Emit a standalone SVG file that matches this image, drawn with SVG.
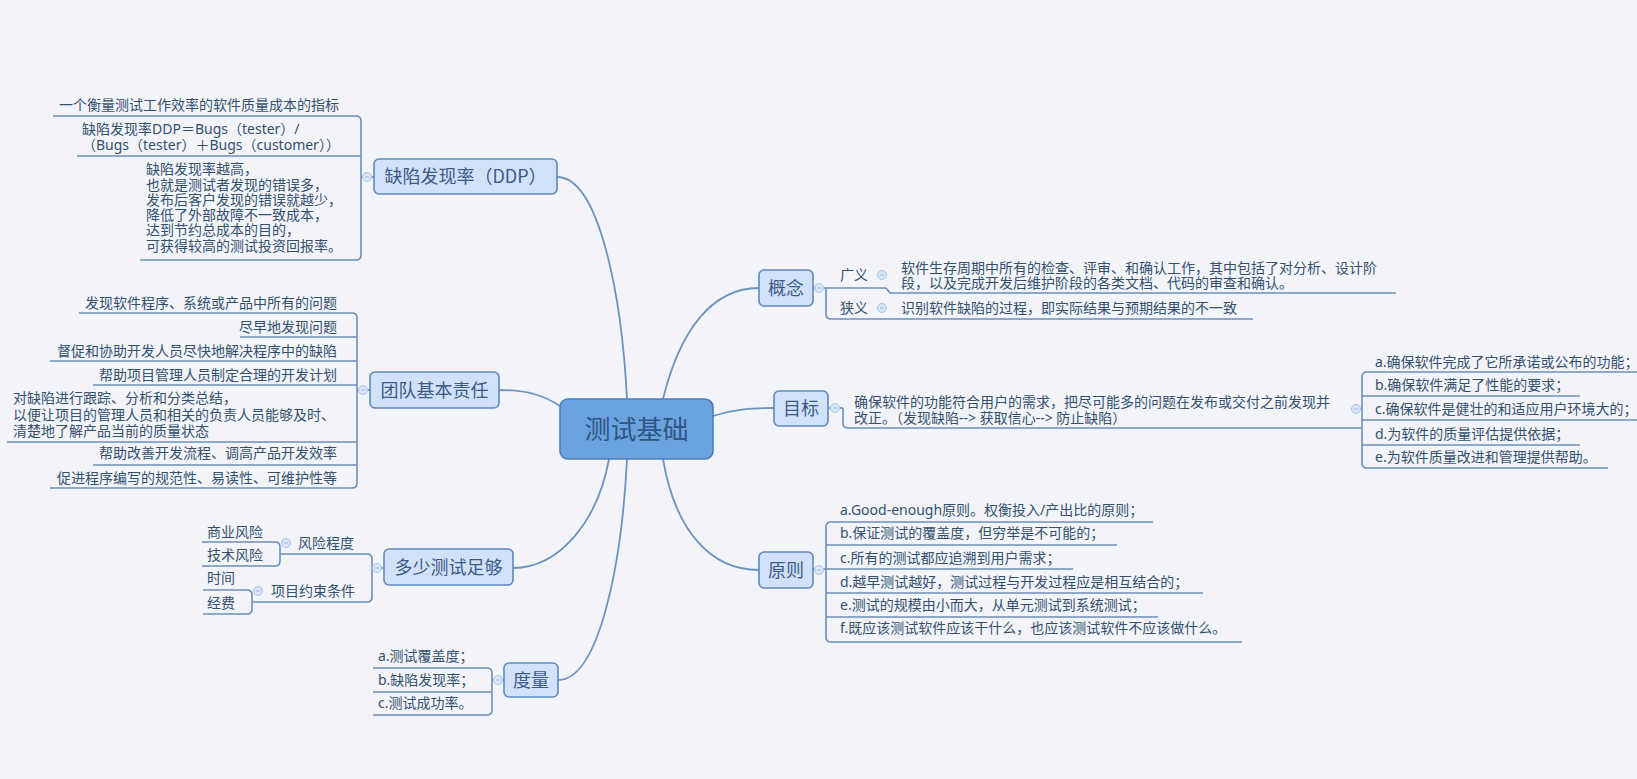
<svg xmlns="http://www.w3.org/2000/svg" width="1637" height="779" viewBox="0 0 1637 779">
<style>
text{font-family:"Noto Sans CJK SC","Noto Sans",sans-serif;fill:#34506f}
.t{font-family:"Noto Sans","Noto Sans CJK SC",sans-serif;font-size:14px}
.main rect{fill:#d2e1fa;stroke:#5f89bf;stroke-width:1.6}
.main text{font-size:18px;fill:#3b5b86;text-anchor:middle}
.root rect{fill:#6aa3df;stroke:#4c7fba;stroke-width:1.6}
.root text{font-size:26px;fill:#2f5684;text-anchor:middle}
.ul{stroke:#6c8fba;stroke-width:1.6;fill:none}
.conn path{stroke:#6f93bf;stroke-width:1.8;fill:none}
.br path{stroke:#6c8fba;stroke-width:1.6;fill:none}
.cb circle{fill:#d9e6f7;stroke:#aac4e6;stroke-width:1}
.cb line{stroke:#9db8de;stroke-width:1}
.end{text-anchor:end}
</style>
<rect width="1637" height="779" fill="#f2f4f9"/>

<g id="connectors">
  <g class="conn">
    <path d="M557,177 C600,177 622,300 627,399"/>
    <path d="M663,399 C680,330 712,288 759,288"/>
    <path d="M713,416 C735,409 752,408 774,408"/>
    <path d="M663,459 C675,530 710,570 759,570"/>
    <path d="M558,680 C600,680 622,560 627,459"/>
    <path d="M513,568 C560,568 598,520 609,459"/>
    <path d="M499,390 C528,390 545,396 560,406"/>
  </g>
  <g class="br">
    <path d="M374,177 H361"/>
    <path d="M356,116 Q361,116 361,121 V255 Q361,260 356,260"/>
    <path d="M370,390 H357"/>
    <path d="M352,313 Q357,313 357,318 V483 Q357,488 352,488"/>
    <path d="M384,568 H372"/>
    <path d="M367,554 Q372,554 372,559 V597 Q372,602 367,602"/>
    <path d="M275,542 Q280,542 280,547 V561 Q280,566 275,566"/>
    <path d="M247,590 Q252,590 252,595 V609 Q252,614 247,614"/>
    <path d="M504,680 H492"/>
    <path d="M487,668 Q492,668 492,673 V710 Q492,715 487,715"/>
    <path d="M813,288 H826"/>
    <path d="M826,288 V314 Q826,319 831,319"/>
    <path d="M886,288 L890,293"/>
    <path d="M828,408 H843"/>
    <path d="M843,408 V423 Q843,428 848,428"/>
    <path d="M1367,372 Q1362,372 1362,377 V463 Q1362,468 1367,468"/>
    <path d="M813,569 H826"/>
    <path d="M831,522 Q826,522 826,527 V637 Q826,642 831,642"/>
  </g>
</g>

<g id="root" class="root">
  <rect x="560" y="399" width="153" height="60" rx="8"/>
  <text x="636.5" y="439">测试基础</text>
</g>

<g id="n-ddp" class="main">
  <rect x="374" y="159" width="183" height="35" rx="5"/>
  <text x="465.5" y="183.3">缺陷发现率（DDP）</text>
</g>
<g id="n-team" class="main">
  <rect x="370" y="372" width="129" height="36" rx="5"/>
  <text x="434.5" y="396.8">团队基本责任</text>
</g>
<g id="n-enough" class="main">
  <rect x="384" y="549" width="129" height="36" rx="5"/>
  <text x="448.5" y="573.8">多少测试足够</text>
</g>
<g id="n-metric" class="main">
  <rect x="504" y="663" width="54" height="34" rx="5"/>
  <text x="531" y="686.8">度量</text>
</g>
<g id="n-concept" class="main">
  <rect x="759" y="270" width="54" height="36" rx="5"/>
  <text x="786" y="294.8">概念</text>
</g>
<g id="n-goal" class="main">
  <rect x="774" y="391" width="54" height="35" rx="5"/>
  <text x="801" y="415.3">目标</text>
</g>
<g id="n-principle" class="main">
  <rect x="759" y="552" width="54" height="36" rx="5"/>
  <text x="786" y="576.8">原则</text>
</g>

<g id="ddp-1">
  <text class="t" x="59" y="110.3">一个衡量测试工作效率的软件质量成本的指标</text>
  <path class="ul" d="M53,116 H356"/>
</g>
<g id="ddp-2">
  <text class="t" x="82" y="134.3">缺陷发现率DDP＝Bugs（tester）/</text>
  <text class="t" x="82" y="150.3">（Bugs（tester）＋Bugs（customer））</text>
  <path class="ul" d="M77,156 H361"/>
</g>
<g id="ddp-3">
  <text class="t" x="146" y="174.3">缺陷发现率越高，</text>
  <text class="t" x="146" y="190.3">也就是测试者发现的错误多，</text>
  <text class="t" x="146" y="205.3">发布后客户发现的错误就越少，</text>
  <text class="t" x="146" y="220.3">降低了外部故障不一致成本，</text>
  <text class="t" x="146" y="235.3">达到节约总成本的目的，</text>
  <text class="t" x="146" y="251.3">可获得较高的测试投资回报率。</text>
  <path class="ul" d="M140,260 H356"/>
</g>

<g id="team-1">
  <text class="t end" x="337" y="308.3">发现软件程序、系统或产品中所有的问题</text>
  <path class="ul" d="M79,313 H352"/>
</g>
<g id="team-2">
  <text class="t end" x="337" y="332.3">尽早地发现问题</text>
  <path class="ul" d="M240,337 H357"/>
</g>
<g id="team-3">
  <text class="t end" x="337" y="356.3">督促和协助开发人员尽快地解决程序中的缺陷</text>
  <path class="ul" d="M50,361 H357"/>
</g>
<g id="team-4">
  <text class="t end" x="337" y="380.3">帮助项目管理人员制定合理的开发计划</text>
  <path class="ul" d="M93,385 H357"/>
</g>
<g id="team-5">
  <text class="t" x="13" y="403.3">对缺陷进行跟踪、分析和分类总结，</text>
  <text class="t" x="13" y="420.3">以便让项目的管理人员和相关的负责人员能够及时、</text>
  <text class="t" x="13" y="436.3">清楚地了解产品当前的质量状态</text>
  <path class="ul" d="M7,442 H357"/>
</g>
<g id="team-6">
  <text class="t end" x="337" y="458.3">帮助改善开发流程、调高产品开发效率</text>
  <path class="ul" d="M93,465 H357"/>
</g>
<g id="team-7">
  <text class="t end" x="337" y="483.3">促进程序编写的规范性、易读性、可维护性等</text>
  <path class="ul" d="M50,488 H352"/>
</g>

<g id="enough-risk">
  <text class="t" x="298" y="548.3">风险程度</text>
  <path class="ul" d="M280,554 H367"/>
</g>
<g id="risk-biz">
  <text class="t" x="207" y="537.3">商业风险</text>
  <path class="ul" d="M202,542 H275"/>
</g>
<g id="risk-tech">
  <text class="t" x="207" y="560.3">技术风险</text>
  <path class="ul" d="M202,566 H275"/>
</g>
<g id="enough-limit">
  <text class="t" x="271" y="596.3">项目约束条件</text>
  <path class="ul" d="M252,602 H367"/>
</g>
<g id="limit-time">
  <text class="t" x="207" y="583.3">时间</text>
  <path class="ul" d="M203,590 H247"/>
</g>
<g id="limit-cost">
  <text class="t" x="207" y="608.3">经费</text>
  <path class="ul" d="M203,614 H247"/>
</g>

<g id="metric-a">
  <text class="t" x="378" y="661.3">a.测试覆盖度；</text>
  <path class="ul" d="M373,668 H487"/>
</g>
<g id="metric-b">
  <text class="t" x="378" y="685.3">b.缺陷发现率；</text>
  <path class="ul" d="M373,692 H492"/>
</g>
<g id="metric-c">
  <text class="t" x="378" y="708.3">c.测试成功率。</text>
  <path class="ul" d="M373,715 H487"/>
</g>

<g id="concept-broad">
  <text class="t" x="840" y="280.3">广义</text>
  <path class="ul" d="M826,288 H886"/>
</g>
<g id="broad-desc">
  <text class="t" x="901" y="273.3">软件生存周期中所有的检查、评审、和确认工作，其中包括了对分析、设计阶</text>
  <text class="t" x="901" y="288.3">段，以及完成开发后维护阶段的各类文档、代码的审查和确认。</text>
  <path class="ul" d="M890,293 H1396"/>
</g>
<g id="concept-narrow">
  <text class="t" x="840" y="313.3">狭义</text>
  <path class="ul" d="M831,319 H890"/>
</g>
<g id="narrow-desc">
  <text class="t" x="901" y="313.3">识别软件缺陷的过程，即实际结果与预期结果的不一致</text>
  <path class="ul" d="M890,319 H1253"/>
</g>

<g id="goal-desc">
  <text class="t" x="854" y="407.3">确保软件的功能符合用户的需求，把尽可能多的问题在发布或交付之前发现并</text>
  <text class="t" x="854" y="423.3">改正。（发现缺陷--&gt; 获取信心--&gt; 防止缺陷）</text>
  <path class="ul" d="M848,428 H1362"/>
</g>
<g id="goal-a">
  <text class="t" x="1375" y="367.3">a.确保软件完成了它所承诺或公布的功能；</text>
  <path class="ul" d="M1367,372 H1637"/>
</g>
<g id="goal-b">
  <text class="t" x="1375" y="390.3">b.确保软件满足了性能的要求；</text>
  <path class="ul" d="M1362,396 H1580"/>
</g>
<g id="goal-c">
  <text class="t" x="1375" y="414.3">c.确保软件是健壮的和适应用户环境大的；</text>
  <path class="ul" d="M1362,420 H1637"/>
</g>
<g id="goal-d">
  <text class="t" x="1375" y="439.3">d.为软件的质量评估提供依据；</text>
  <path class="ul" d="M1362,445 H1580"/>
</g>
<g id="goal-e">
  <text class="t" x="1375" y="462.3">e.为软件质量改进和管理提供帮助。</text>
  <path class="ul" d="M1367,468 H1608"/>
</g>

<g id="pr-a">
  <text class="t" x="840" y="515.3">a.Good-enough原则。权衡投入/产出比的原则；</text>
  <path class="ul" d="M831,522 H1153"/>
</g>
<g id="pr-b">
  <text class="t" x="840" y="538.3">b.保证测试的覆盖度，但穷举是不可能的；</text>
  <path class="ul" d="M826,545 H1117"/>
</g>
<g id="pr-c">
  <text class="t" x="840" y="563.3">c.所有的测试都应追溯到用户需求；</text>
  <path class="ul" d="M826,569 H1073"/>
</g>
<g id="pr-d">
  <text class="t" x="840" y="587.3">d.越早测试越好，测试过程与开发过程应是相互结合的；</text>
  <path class="ul" d="M826,593 H1203"/>
</g>
<g id="pr-e">
  <text class="t" x="840" y="610.3">e.测试的规模由小而大，从单元测试到系统测试；</text>
  <path class="ul" d="M826,617 H1158"/>
</g>
<g id="pr-f">
  <text class="t" x="840" y="633.3">f.既应该测试软件应该干什么，也应该测试软件不应该做什么。</text>
  <path class="ul" d="M831,642 H1242"/>
</g>

<g id="collapse-buttons" class="cb">
  <circle cx="367" cy="177" r="4.5"/><line x1="365" y1="177" x2="369" y2="177"/>
  <circle cx="363" cy="390" r="4.5"/><line x1="361" y1="390" x2="365" y2="390"/>
  <circle cx="377" cy="568" r="4.5"/><line x1="375" y1="568" x2="379" y2="568"/>
  <circle cx="498" cy="680" r="4.5"/><line x1="496" y1="680" x2="500" y2="680"/>
  <circle cx="286" cy="543" r="4.5"/><line x1="284" y1="543" x2="288" y2="543"/>
  <circle cx="258" cy="591" r="4.5"/><line x1="256" y1="591" x2="260" y2="591"/>
  <circle cx="819" cy="288" r="4.5"/><line x1="817" y1="288" x2="821" y2="288"/>
  <circle cx="835" cy="408" r="4.5"/><line x1="833" y1="408" x2="837" y2="408"/>
  <circle cx="819" cy="570" r="4.5"/><line x1="817" y1="570" x2="821" y2="570"/>
  <circle cx="882" cy="275" r="4.5"/><line x1="880" y1="275" x2="884" y2="275"/>
  <circle cx="882" cy="308" r="4.5"/><line x1="880" y1="308" x2="884" y2="308"/>
  <circle cx="1356" cy="409" r="4.5"/><line x1="1354" y1="409" x2="1358" y2="409"/>
</g>
</svg>
